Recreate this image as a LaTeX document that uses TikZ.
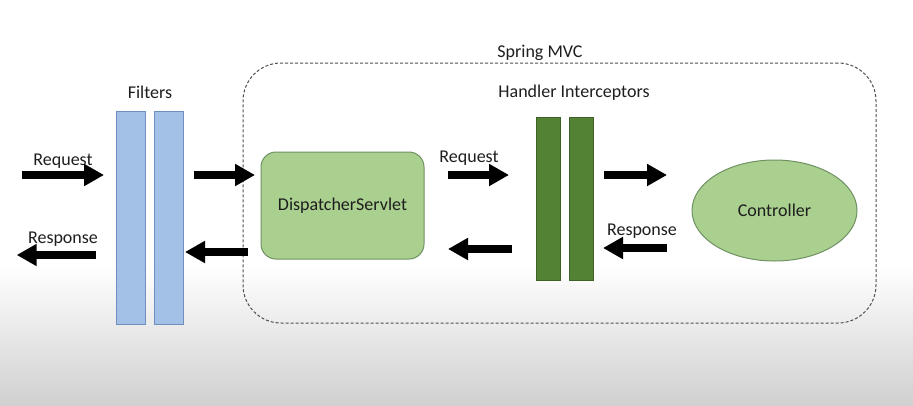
\documentclass[tikz,border=0pt]{standalone}
\usepackage{fontspec}
\setmainfont{Carlito}
\usetikzlibrary{arrows.meta,shapes.geometric}
\definecolor{fblue}{HTML}{A3C1E7}
\definecolor{fblueb}{HTML}{6E8FBF}
\definecolor{lgreen}{HTML}{A9D08E}
\definecolor{lgreenb}{HTML}{6F9163}
\definecolor{dgreen}{HTML}{548235}
\definecolor{dgreenb}{HTML}{3E6128}
\definecolor{bggray}{HTML}{D0D0D0}
\definecolor{txt}{HTML}{1E1E1E}
\definecolor{dashc}{HTML}{4F4F4F}
\begin{document}
\begin{tikzpicture}[x=1pt,y=-1pt,
  lbl/.style={font=\fontsize{18}{21}\selectfont, text=txt, inner sep=0pt, anchor=base},
  fbar/.style={draw=fblueb, fill=fblue, line width=1pt, minimum width=29pt, minimum height=213pt, inner sep=0pt},
  ibar/.style={draw=dgreenb, fill=dgreen, line width=1pt, minimum width=24pt, minimum height=163pt, inner sep=0pt},
  flow/.style={line width=8pt, -{Triangle[length=20pt,width=21pt]}},
  box/.style={draw=lgreenb, fill=lgreen, line width=1pt, font=\fontsize{18}{21}\selectfont, text=txt, inner sep=0pt},
]
\useasboundingbox (0,0) rectangle (913,405);
\fill[white] (0,0) rectangle (913,265);
\shade[top color=white, bottom color=bggray] (0,265) rectangle (913,405);

% Spring MVC container
\node[draw=dashc, line width=1pt, dash pattern=on 3pt off 2pt,
      rounded corners=38pt, minimum width=633pt, minimum height=260pt, inner sep=0pt] (mvc) at (559.5,193) {};

% labels
\node[lbl] (lfilters) at (150,98) {Filters};
\node[lbl] (lmvc) at (540,57) {Spring MVC};
\node[lbl] (lhi) at (574,97.5) {Handler Interceptors};
\node[lbl] (lreq1) at (63,165) {Request};
\node[lbl] (lresp1) at (63,243.5) {Response};
\node[lbl] (lreq2) at (469,162) {Request};
\node[lbl] (lresp2) at (642,235) {Response};

% filters
\node[fbar] (f1) at (130.5,217.5) {};
\node[fbar] (f2) at (169,217.5) {};

% interceptors
\node[ibar] (i1) at (548,198.5) {};
\node[ibar] (i2) at (581,198.5) {};

% dispatcher and controller
\node[box, rounded corners=15pt, minimum width=163pt, minimum height=107pt] (ds) at (342.5,205.5) {DispatcherServlet};
\node[box, ellipse, minimum width=165pt, minimum height=101pt] (ctl) at (774.5,210.5) {Controller};

% arrow end points
\coordinate (a1s) at (21.7,175);  \coordinate (a1e) at (104,175);
\coordinate (a2s) at (95.7,255);  \coordinate (a2e) at (16.7,255);
\coordinate (a3s) at (193.7,175); \coordinate (a3e) at (255,175);
\coordinate (a4s) at (248,252);   \coordinate (a4e) at (185,252);
\coordinate (a5s) at (448,175);   \coordinate (a5e) at (509,175);
\coordinate (a6s) at (512,249);   \coordinate (a6e) at (448,249);
\coordinate (a7s) at (604,175);   \coordinate (a7e) at (667,175);
\coordinate (a8s) at (667,248);   \coordinate (a8e) at (603,248);

\foreach \i in {1,...,8} \draw[flow] (a\i s) -- (a\i e);
\end{tikzpicture}
\end{document}
